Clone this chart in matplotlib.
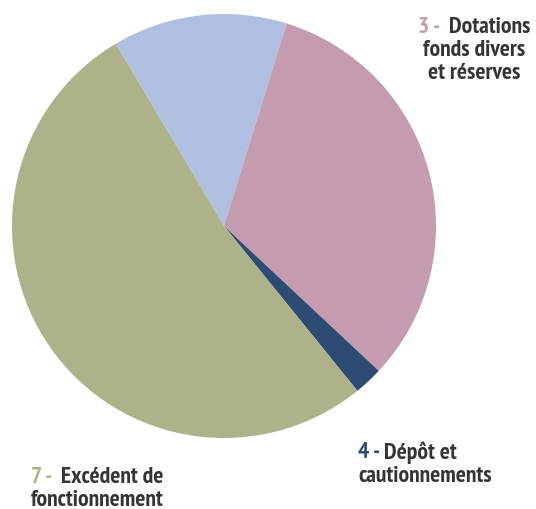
import matplotlib.pyplot as plt

names = ['Fonds divers', '3 - Dotations fonds divers et réserves',
         '4 - Dépôt et cautionnements', '7 - Excédent de fonctionnement']
shares = [13.3, 32.2, 2.2, 52.3]
colors = ['#b0bfe0', '#c49baf', '#2d4b73', '#adb28a']

plt.rcParams['font.family'] = ['PT Sans Narrow', 'Liberation Sans Narrow', 'DejaVu Sans']

fig = plt.figure(figsize=(5.36, 5.10), dpi=100)
W, H = 536, 510
cx, cy, r = 224, 227, 212
ax = fig.add_axes([(cx - r) / W, (H - cy - r) / H, 2 * r / W, 2 * r / H])
ax.pie(shares, colors=colors, startangle=120.7, counterclock=False,
       wedgeprops=dict(linewidth=0))
ax.set_xlim(-1, 1)
ax.set_ylim(-1, 1)
ax.set_aspect('equal')
ax.axis('off')

txt_col = '#353535'
fs = 17
renderer = fig.canvas.get_renderer()


def line(x, y, prefix, rest, pcol, align='left'):
    # coloured number + dark label on one line, x,y in pixels from top-left
    kw = dict(fontsize=fs, fontweight=700, va='center', transform=None)
    yy = H - y
    t1 = fig.text(0, yy, prefix, color=pcol, **kw)
    t2 = fig.text(0, yy, rest, color=txt_col, **kw)
    w1 = t1.get_window_extent(renderer).width
    w2 = t2.get_window_extent(renderer).width
    x0 = x - (w1 + w2) / 2 if align == 'center' else x
    t1.set_x(x0)
    t2.set_x(x0 + w1)


def plain(x, y, s, align='center'):
    fig.text(x, H - y, s, color=txt_col, fontsize=fs, fontweight=700,
             ha=align, va='center', transform=None)


line(474, 28, '3 -  ', 'Dotations', colors[1], 'center')
plain(474, 51, 'fonds divers')
plain(474, 74, 'et réserves')

line(358, 453, '4 - ', 'Dépôt et', colors[2])
plain(358, 477, 'cautionnements', 'left')

line(97, 478, '7 -  ', 'Excédent de', colors[3], 'center')
plain(97, 501, 'fonctionnement')

fig.savefig('out.png', dpi=100)
